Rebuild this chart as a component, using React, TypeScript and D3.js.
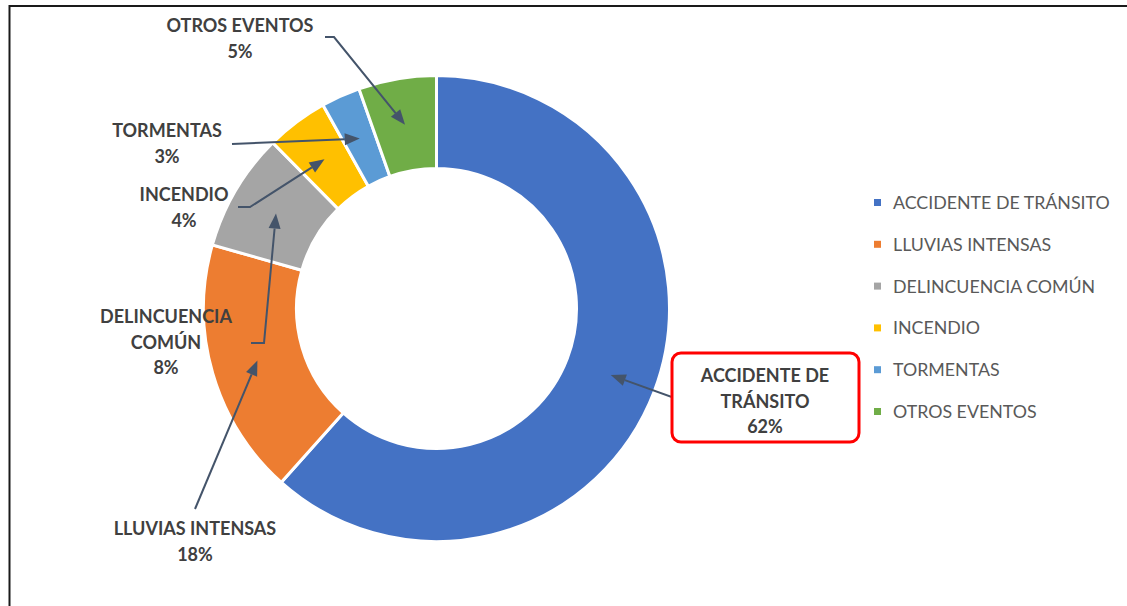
import * as d3 from "d3"
import { useEffect, useRef } from "react"

const categories = [
  "ACCIDENTE DE TRÁNSITO",
  "LLUVIAS INTENSAS",
  "DELINCUENCIA COMÚN",
  "INCENDIO",
  "TORMENTAS",
  "OTROS EVENTOS",
]
const values = [61.6, 17.8, 8.2, 4.3, 2.7, 5.4]
const percentLabels = ["62%", "18%", "8%", "4%", "3%", "5%"]
const labelLines = [
  ["ACCIDENTE DE", "TRÁNSITO"],
  ["LLUVIAS INTENSAS"],
  ["DELINCUENCIA", "COMÚN"],
  ["INCENDIO"],
  ["TORMENTAS"],
  ["OTROS EVENTOS"],
]
const colors = ["#4472C4", "#ED7D31", "#A5A5A5", "#FFC000", "#5B9BD5", "#70AD47"]

// where each data label sits and where its leader line starts
const labelLayout = [
  { x: 765, y: 382, leader: [[692, 400], [680, 400]], box: true },
  { x: 195, y: 535, leader: [[195, 509]] },
  { x: 166, y: 323, leader: [[251, 343], [264, 343]] },
  { x: 184, y: 201, leader: [[238, 207], [250, 207]] },
  { x: 167, y: 137, leader: [[232, 144]] },
  { x: 240, y: 32, leader: [[325, 37], [334, 37]] },
]

const App = () => {
  const svgRef = useRef<SVGSVGElement | null>(null)

  useEffect(() => {
    if (!svgRef.current) return
    const svg = d3.select(svgRef.current)
    svg.selectAll("*").remove()

    const W = 1127
    const H = 606
    svg.attr("width", W).attr("height", H)

    svg.append("rect").attr("width", W).attr("height", H).attr("fill", "#fff")

    // outer frame (only top and left visible)
    svg
      .append("rect")
      .attr("x", 9.5)
      .attr("y", 6)
      .attr("width", W + 20)
      .attr("height", H + 20)
      .attr("fill", "none")
      .attr("stroke", "#1a1a1a")
      .attr("stroke-width", 2)

    const cx = 436.5
    const cy = 308.5
    const outerR = 233
    const innerR = 140

    const pie = d3
      .pie<number>()
      .sort(null)
      .value((d) => d)
    const arcs = pie(values)
    const arc = d3
      .arc<d3.PieArcDatum<number>>()
      .innerRadius(innerR)
      .outerRadius(outerR)

    const g = svg.append("g").attr("transform", `translate(${cx},${cy})`)
    g.selectAll("path.slice")
      .data(arcs)
      .enter()
      .append("path")
      .attr("class", "slice")
      .attr("d", arc)
      .attr("fill", (_d, i) => colors[i])
      .attr("stroke", "#fff")
      .attr("stroke-width", 3)

    const font = "Lato, 'Open Sans', sans-serif"
    const lineColor = "#44546A"

    // leader lines with arrowheads
    arcs.forEach((a, i) => {
      const [tx, ty] = arc.centroid(a)
      const tip: [number, number] = [cx + tx, cy + ty]
      const pts = labelLayout[i].leader.map((p) => [p[0], p[1]] as [number, number])
      const last = pts[pts.length - 1]
      const dx = tip[0] - last[0]
      const dy = tip[1] - last[1]
      const len = Math.hypot(dx, dy)
      const ux = dx / len
      const uy = dy / len
      const headLen = 15
      const headHalf = 6
      const base: [number, number] = [tip[0] - ux * headLen, tip[1] - uy * headLen]
      svg
        .append("path")
        .attr("d", d3.line()([...pts, base]))
        .attr("fill", "none")
        .attr("stroke", lineColor)
        .attr("stroke-width", 2)
      svg
        .append("path")
        .attr(
          "d",
          `M${tip[0]},${tip[1]}L${base[0] - uy * headHalf},${base[1] + ux * headHalf}L${base[0] + uy * headHalf},${base[1] - ux * headHalf}Z`,
        )
        .attr("fill", lineColor)
    })

    // data labels
    labelLayout.forEach((l, i) => {
      const lines = [...labelLines[i], percentLabels[i]]
      if (l.box) {
        svg
          .append("rect")
          .attr("x", 672)
          .attr("y", 353)
          .attr("width", 187)
          .attr("height", 89)
          .attr("rx", 9)
          .attr("fill", "#fff")
          .attr("stroke", "#FF0000")
          .attr("stroke-width", 3)
      }
      const t = svg
        .append("text")
        .attr("text-anchor", "middle")
        .style("font-family", font)
        .style("font-weight", "bold")
        .style("font-size", "18px")
        .attr("fill", "#404040")
      lines.forEach((s, j) => {
        t.append("tspan")
          .attr("x", l.x)
          .attr("y", l.y + j * 25.5)
          .text(s)
      })
    })

    // legend
    const legendY = d3
      .scalePoint<string>()
      .domain(categories)
      .range([203, 412])
    const legend = svg
      .append("g")
      .selectAll("g")
      .data(categories)
      .enter()
      .append("g")
      .attr("transform", (d) => `translate(878,${legendY(d)})`)
    legend
      .append("rect")
      .attr("x", -4)
      .attr("y", -4)
      .attr("width", 7)
      .attr("height", 7)
      .attr("fill", (_d, i) => colors[i])
    legend
      .append("text")
      .attr("x", 15)
      .attr("y", 6)
      .style("font-family", font)
      .style("font-size", "17.8px")
      .attr("fill", "#595959")
      .text((d) => d)
  }, [])

  return (
    <svg
      ref={svgRef}
      style={{ position: "absolute", left: 0, top: 0, display: "block" }}
    />
  )
}

export default App
